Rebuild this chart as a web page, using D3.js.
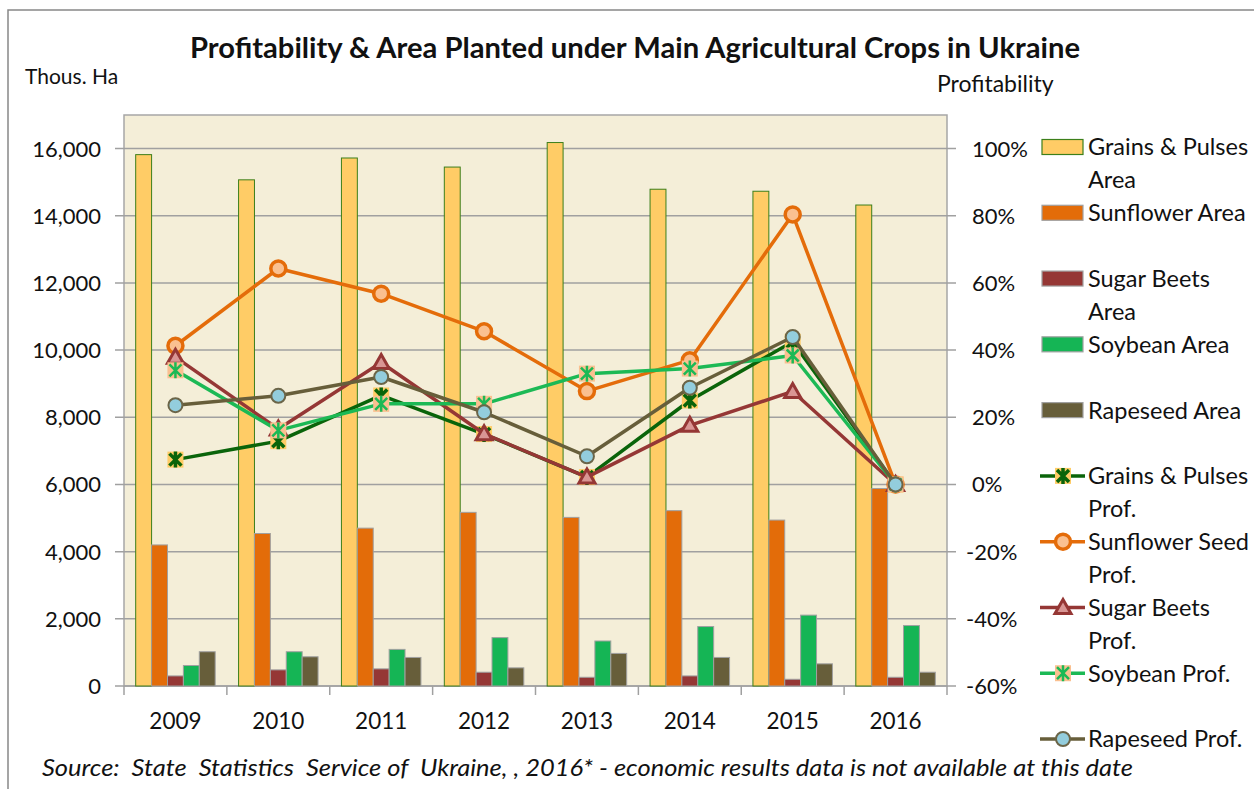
<!DOCTYPE html>
<html>
<head>
<meta charset="utf-8">
<script src="https://cdn.jsdelivr.net/npm/d3@7"></script>
<style>
  body { margin: 0; background: #fff; }
  svg { display: block; font-family: Lato, "Open Sans", sans-serif; }
</style>
</head>
<body>
<div id="app"></div>
<script>
const years = ['2009', '2010', '2011', '2012', '2013', '2014', '2015', '2016'];

// area planted, thous. ha
const grainsArea = [15820, 15070, 15720, 15450, 16180, 14790, 14730, 14320];
const sunflowerArea = [4200, 4540, 4700, 5170, 5020, 5220, 4940, 5880];
const sugarArea = [300, 480, 510, 410, 260, 300, 200, 260];
const soybeanArea = [610, 1020, 1090, 1440, 1340, 1770, 2110, 1800];
const rapeseedArea = [1020, 870, 850, 540, 970, 850, 660, 410];

// profitability, %
const grainsProf = [7.4, 12.9, 26.5, 15, 2.2, 25, 42.5, 0];
const sunflowerProf = [41.3, 64.3, 56.8, 45.6, 27.8, 37, 80.4, 0];
const sugarProf = [37.9, 16.5, 36.3, 15.1, 2.2, 17.6, 27.7, 0];
const soybeanProf = [34, 16.1, 24, 24, 33, 34.5, 38.4, 0];
const rapeseedProf = [23.6, 26.4, 32, 21.5, 8.4, 28.8, 43.9, 0];

const leftTicks = [0, 2000, 4000, 6000, 8000, 10000, 12000, 14000, 16000];
const rightTicks = [-60, -40, -20, 0, 20, 40, 60, 80, 100];

const areaSeries = [
    { name: ['Grains & Pulses', 'Area'], values: grainsArea, fill: '#FFCC66', stroke: '#3C7F1A' },
    { name: ['Sunflower Area'], values: sunflowerArea, fill: '#E36C09', stroke: '#A0A0A0' },
    { name: ['Sugar Beets', 'Area'], values: sugarArea, fill: '#953735', stroke: '#A0A0A0' },
    { name: ['Soybean Area'], values: soybeanArea, fill: '#15B555', stroke: '#A0A0A0' },
    { name: ['Rapeseed Area'], values: rapeseedArea, fill: '#675E3A', stroke: '#A0A0A0' },
];

const profSeries = [
    { name: ['Grains & Pulses', 'Prof.'], values: grainsProf, color: '#0A640A', marker: 'star', mfill: '#FFCC66', mstroke: '#0A640A' },
    { name: ['Sunflower Seed', 'Prof.'], values: sunflowerProf, color: '#E46C0A', marker: 'circle', mfill: '#FAC090', mstroke: '#E46C0A' },
    { name: ['Sugar Beets', 'Prof.'], values: sugarProf, color: '#953735', marker: 'triangle', mfill: '#D99694', mstroke: '#953735' },
    { name: ['Soybean Prof.'], values: soybeanProf, color: '#1CB955', marker: 'star', mfill: '#FAC090', mstroke: '#1CB955' },
    { name: ['Rapeseed Prof.'], values: rapeseedProf, color: '#675E3A', marker: 'circle', mfill: '#93CDDD', mstroke: '#6B6548' },
];

const width = 1254;
const height = 789;
const plot = { left: 124, right: 947, top: 115, bottom: 686 };

const svg = d3.select('#app').append('svg')
    .attr('width', width)
    .attr('height', height);

svg.append('rect')
    .attr('x', 8).attr('y', 10)
    .attr('width', width).attr('height', height)
    .attr('fill', '#fff')
    .attr('stroke', '#888')
    .attr('stroke-width', 1.5);

const x0 = d3.scaleBand().domain(years).range([plot.left, plot.right]);
const x1 = d3.scaleBand().domain(d3.range(areaSeries.length))
    .range([0, x0.bandwidth()])
    .paddingInner(0)
    .paddingOuter(0.735);
const yLeft = d3.scaleLinear().domain([0, 17000]).range([plot.bottom, plot.top]);
const yRight = d3.scaleLinear().domain([-60, 110]).range([plot.bottom, plot.top]);

// plot background
svg.append('rect')
    .attr('x', plot.left).attr('y', plot.top)
    .attr('width', plot.right - plot.left).attr('height', plot.bottom - plot.top)
    .attr('fill', '#F4EED8')
    .attr('stroke', '#A6A6A6')
    .attr('stroke-width', 1.5);

// gridlines + left ticks
svg.append('g')
    .selectAll('line')
    .data(leftTicks)
    .enter().append('line')
    .attr('x1', plot.left - 9).attr('x2', plot.right + 9)
    .attr('y1', d => yLeft(d)).attr('y2', d => yLeft(d))
    .attr('stroke', '#A0A0A0')
    .attr('stroke-width', 1.5);

svg.append('g')
    .attr('font-size', 22)
    .attr('text-anchor', 'end')
    .selectAll('text')
    .data(leftTicks)
    .enter().append('text')
    .attr('x', 101)
    .attr('y', d => yLeft(d))
    .attr('dy', '0.36em')
    .attr('fill', '#111')
    .text(d3.format(','));

svg.append('g')
    .attr('font-size', 22)
    .selectAll('text')
    .data(rightTicks)
    .enter().append('text')
    .attr('x', d => d < 0 ? 966 : 972)
    .attr('y', d => yRight(d))
    .attr('dy', '0.36em')
    .attr('fill', '#111')
    .text(d => d + '%');

// category axis ticks
svg.append('g')
    .selectAll('line')
    .data(years.concat(['end']))
    .enter().append('line')
    .attr('x1', (d, i) => plot.left + i * x0.step())
    .attr('x2', (d, i) => plot.left + i * x0.step())
    .attr('y1', plot.bottom).attr('y2', plot.bottom + 9)
    .attr('stroke', '#A0A0A0')
    .attr('stroke-width', 1.5);

svg.append('g')
    .attr('font-size', 22.5)
    .attr('text-anchor', 'middle')
    .selectAll('text')
    .data(years)
    .enter().append('text')
    .attr('x', d => x0(d) + x0.bandwidth() / 2)
    .attr('y', 721)
    .attr('dy', '0.36em')
    .attr('fill', '#111')
    .text(d => d);

// bars
const groups = svg.append('g')
    .selectAll('g')
    .data(years)
    .enter().append('g')
    .attr('transform', d => `translate(${x0(d)},0)`);

groups.selectAll('rect')
    .data((d, i) => areaSeries.map((s, k) => ({ k, s, v: s.values[i] })))
    .enter().append('rect')
    .attr('x', d => x1(d.k))
    .attr('width', x1.bandwidth())
    .attr('y', d => yLeft(d.v))
    .attr('height', d => plot.bottom - yLeft(d.v))
    .attr('fill', d => d.s.fill)
    .attr('stroke', d => d.s.stroke)
    .attr('stroke-width', 1);

// markers
const drawMarker = (sel, s) => {
    if (s.marker === 'circle') {
        const r = s.mfill === '#93CDDD' ? 7 : 7.5;
        sel.append('circle')
            .attr('r', r)
            .attr('fill', s.mfill)
            .attr('stroke', s.mstroke)
            .attr('stroke-width', s.mfill === '#93CDDD' ? 2 : 3.5);
    } else if (s.marker === 'triangle') {
        sel.append('path')
            .attr('d', 'M0,-8L8,6L-8,6Z')
            .attr('fill', s.mfill)
            .attr('stroke', s.mstroke)
            .attr('stroke-width', 3)
            .attr('stroke-linejoin', 'miter');
    } else {
        sel.append('rect')
            .attr('x', -8).attr('y', -8)
            .attr('width', 16).attr('height', 16)
            .attr('fill', s.mfill);
        sel.append('path')
            .attr('d', 'M-6,-6L6,6M6,-6L-6,6M0,-8L0,8')
            .attr('stroke', s.mstroke)
            .attr('stroke-width', s.mfill === '#FFCC66' ? 3.5 : 2.5)
            .attr('fill', 'none');
    }
};

const line = d3.line()
    .x((d, i) => x0(years[i]) + x0.bandwidth() / 2)
    .y(d => yRight(d));

profSeries.forEach(s => {
    const g = svg.append('g');
    g.append('path')
        .datum(s.values)
        .attr('d', line)
        .attr('fill', 'none')
        .attr('stroke', s.color)
        .attr('stroke-width', 3.5)
        .attr('stroke-linejoin', 'round');
    s.values.forEach((v, i) => {
        const m = g.append('g')
            .attr('transform', `translate(${x0(years[i]) + x0.bandwidth() / 2},${yRight(v)})`);
        drawMarker(m, s);
    });
});

// titles
svg.append('text')
    .attr('x', 635).attr('y', 48)
    .attr('dy', '0.36em')
    .attr('text-anchor', 'middle')
    .attr('font-size', 28)
    .attr('font-weight', 'bold')
    .attr('fill', '#111')
    .attr('textLength', 890)
    .attr('lengthAdjust', 'spacingAndGlyphs')
    .text('Profitability & Area Planted under Main Agricultural Crops in Ukraine');

svg.append('text')
    .attr('x', 25).attr('y', 76)
    .attr('dy', '0.36em')
    .attr('font-size', 21)
    .attr('fill', '#111')
    .text('Thous. Ha');

svg.append('text')
    .attr('x', 937).attr('y', 84)
    .attr('dy', '0.36em')
    .attr('font-size', 23)
    .attr('fill', '#111')
    .text('Profitability');

svg.append('text')
    .attr('x', 42).attr('y', 768)
    .attr('dy', '0.36em')
    .attr('font-size', 22.5)
    .attr('font-style', 'italic')
    .attr('fill', '#111')
    .attr('textLength', 1091)
    .attr('lengthAdjust', 'spacingAndGlyphs')
    .style('white-space', 'pre')
    .text('Source:  State  Statistics  Service of  Ukraine, , 2016* - economic results data is not available at this date');

// legend
const legendY = d3.scaleLinear().domain([0, 9]).range([147, 739]);
const legend = svg.append('g');

areaSeries.forEach((s, k) => {
    const y = legendY(k);
    legend.append('rect')
        .attr('x', 1042).attr('y', y - 7.5)
        .attr('width', 41).attr('height', 15)
        .attr('fill', s.fill)
        .attr('stroke', s.stroke)
        .attr('stroke-width', 1.2);
});

profSeries.forEach((s, k) => {
    const y = legendY(k + areaSeries.length);
    legend.append('line')
        .attr('x1', 1040).attr('x2', 1085)
        .attr('y1', y).attr('y2', y)
        .attr('stroke', s.color)
        .attr('stroke-width', 3.5);
    const m = legend.append('g').attr('transform', `translate(1063,${y})`);
    drawMarker(m, s);
});

areaSeries.concat(profSeries).forEach((s, k) => {
    const t = legend.append('text')
        .attr('x', 1088)
        .attr('y', legendY(k))
        .attr('font-size', 23.5)
        .attr('fill', '#111');
    s.name.forEach((part, j) => {
        t.append('tspan')
            .attr('x', 1088)
            .attr('dy', j === 0 ? '0.36em' : 33)
            .text(part);
    });
});
</script>
</body>
</html>
